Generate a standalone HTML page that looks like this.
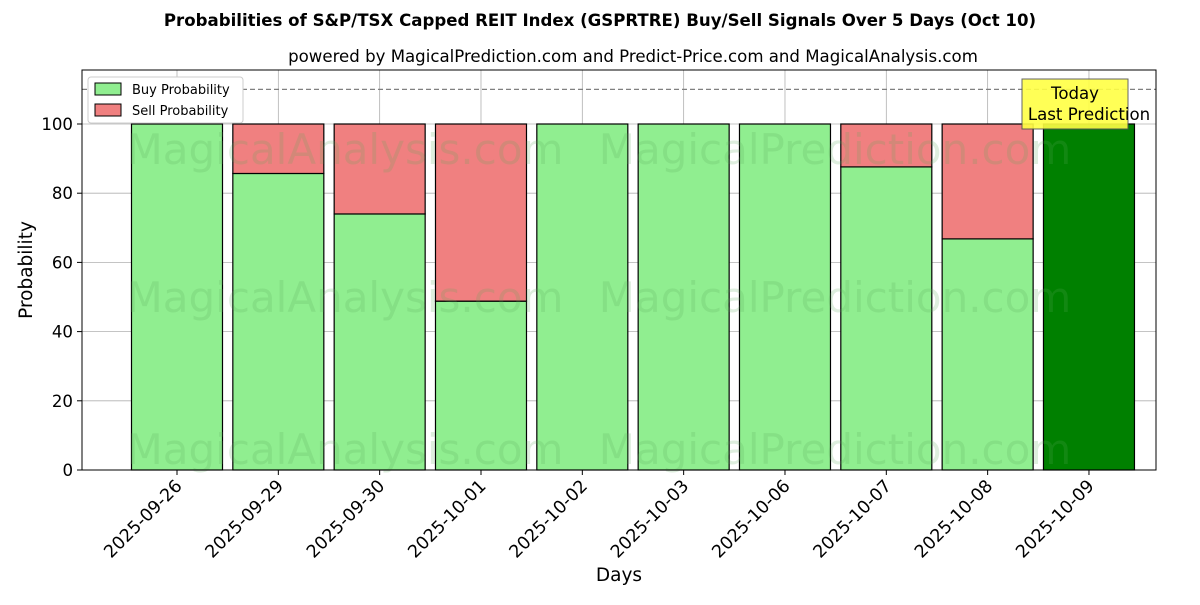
<!DOCTYPE html>
<html><head><meta charset="utf-8"><style>
body{margin:0;background:#fff;font-family:"Liberation Sans","DejaVu Sans",sans-serif}
svg text{font-family:"DejaVu Sans","Liberation Sans",sans-serif}
</style></head><body>
<svg id="c" width="1200" height="600" xmlns="http://www.w3.org/2000/svg"></svg>
<script>
const categories=["2025-09-26","2025-09-29","2025-09-30","2025-10-01","2025-10-02","2025-10-03","2025-10-06","2025-10-07","2025-10-08","2025-10-09"];
const buyValues=[100,85.7,74.0,48.8,100,100,100,87.6,66.8,100];
const sellValues=[0,14.3,26.0,51.2,0,0,0,12.4,33.2,0];
const yTicks=[0,20,40,60,80,100];
const NS="http://www.w3.org/2000/svg";
const svg=document.getElementById('c');
const L=82,R=1156,T=70,B=470;
const y=v=>470-v*3.46;
const x=i=>177+i*101.33;
const bw=91;
function el(t,a,txt){const e=document.createElementNS(NS,t);for(const k in a)e.setAttribute(k,a[k]);if(txt!==undefined)e.textContent=txt;svg.appendChild(e);return e;}
let e;
e=el('text',{x:600,y:26,'text-anchor':'middle','font-size':16.6,'font-weight':'bold'},'Probabilities of S&P/TSX Capped REIT Index (GSPRTRE) Buy/Sell Signals Over 5 Days (Oct 10)');


e=el('text',{x:633,y:62,'text-anchor':'middle','font-size':16.6},'powered by MagicalPrediction.com and Predict-Price.com and MagicalAnalysis.com');


yTicks.forEach(v=>{
 e=el('line',{x1:L,x2:R,y1:y(v),y2:y(v),stroke:'#b0b0b0','stroke-width':0.8});
 
 
 e=el('line',{x1:L-5,x2:L,y1:y(v),y2:y(v),stroke:'#000'});
 e=el('text',{x:L-9,y:y(v)+6,'text-anchor':'end','font-size':16.6},String(v));
 
 
});
categories.forEach((c,i)=>{
 e=el('line',{x1:x(i),x2:x(i),y1:T,y2:B,stroke:'#b0b0b0','stroke-width':0.8});
 
 
});
categories.forEach((c,i)=>{
 const last=i===categories.length-1;
 e=el('rect',{x:x(i)-bw/2,y:y(buyValues[i]),width:bw,height:y(0)-y(buyValues[i]),fill:last?'#008000':'#90ee90',stroke:'#000','stroke-width':1.2});
 
 
 if(sellValues[i]>0){
  e=el('rect',{x:x(i)-bw/2,y:y(buyValues[i]+sellValues[i]),width:bw,height:y(buyValues[i])-y(buyValues[i]+sellValues[i]),fill:'#f08080',stroke:'#000','stroke-width':1.2});
  
  
 }
 e=el('line',{x1:x(i),x2:x(i),y1:B,y2:B+5,stroke:'#000'});
 e=el('text',{x:0,y:0,'text-anchor':'end','font-size':17.5,transform:`translate(${x(i)+6},${B+17}) rotate(-45)`},c);
 
 
});
[[345,150],[835,150],[345,298],[835,298],[345,450],[835,450]].forEach((p,k)=>{
 e=el('text',{x:p[0],y:p[1]+14,'text-anchor':'middle','font-size':42,fill:'rgba(90,170,90,0.2)'},k%2?'MagicalPrediction.com':'MagicalAnalysis.com');
 
 
});
e=el('line',{x1:L,x2:R,y1:y(110),y2:y(110),stroke:'#808080','stroke-width':1.2,'stroke-dasharray':'5,3'});


e=el('rect',{x:L,y:T,width:R-L,height:B-T,fill:'none',stroke:'#000','stroke-width':1});


e=el('rect',{x:1022,y:79,width:106,height:50,fill:'#ffff44',stroke:'#555','stroke-width':1,opacity:0.9});


el('text',{x:1075,y:99,'text-anchor':'middle','font-size':16.6},'Today');
el('text',{x:1089,y:120,'text-anchor':'middle','font-size':16.6},'Last Prediction');
e=el('rect',{x:88,y:77,width:155,height:46,fill:'#fff',stroke:'#ccc',rx:3});


el('rect',{x:95,y:83,width:26,height:12,fill:'#90ee90',stroke:'#000'});
e=el('text',{x:132,y:94,'font-size':13},'Buy Probability');


el('rect',{x:95,y:104,width:26,height:12,fill:'#f08080',stroke:'#000'});
e=el('text',{x:132,y:115,'font-size':13},'Sell Probability');


e=el('text',{x:619,y:581,'text-anchor':'middle','font-size':18.5},'Days');


e=el('text',{x:0,y:0,'text-anchor':'middle','font-size':18.5,transform:'translate(32,270) rotate(-90)'},'Probability');


</script>
</body></html>
